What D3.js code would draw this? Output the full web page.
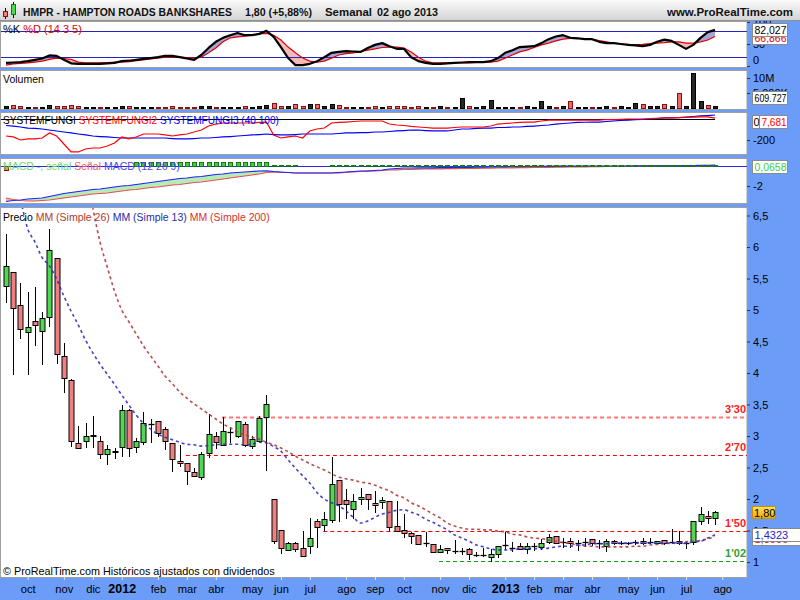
<!DOCTYPE html>
<html><head><meta charset="utf-8">
<script src="https://cdn.jsdelivr.net/npm/d3@7"></script>
<style>
html,body{margin:0;padding:0;background:#fff;}
svg{display:block;font-family:"Liberation Sans",Arial,sans-serif;}
</style></head><body>
<svg id="c" width="800" height="600"></svg>
<script>
// ---------------- DATA ----------------
const firstWeek = new Date(2011, 8, 12);      // Monday of first weekly candle
const lastAxisWeek = new Date(2013, 7, 5);    // extra axis slot (ago 2013)
const monthNames = ["ene","feb","mar","abr","may","jun","jul","ago","sep","oct","nov","dic"];

const open = [5.38,5.60,5.08,4.65,4.83,4.67,4.89,5.83,4.27,3.89, 2.89,2.92,3.00,2.92,2.71,2.75,2.83,3.41,2.83,2.90,
  3.19,3.24,3.11,2.89,2.60,2.57,2.43,2.35,2.73,3.00, 2.86,3.06,3.00,3.19,2.84,2.92,3.30,2.00,1.51,1.19,
  1.30,1.22,1.25,1.65,1.59,1.67,2.30,1.98,1.84,2.00, 2.08,1.94,1.95,1.97,1.57,1.51,1.46,1.43,1.30,1.29,
  1.16,1.22,1.17,1.17,1.21,1.11,1.11,1.08,1.13,1.27, 1.22,1.25,1.21,1.25,1.24,1.32,1.41,1.32,1.33,1.30,
  1.32,1.37,1.30,1.25,1.33,1.30,1.30,1.32,1.33,1.32, 1.30,1.35,1.32,1.33,1.30,1.32,1.65,1.73,1.70];
const high = [6.21,5.60,5.43,5.29,5.37,4.97,6.29,5.83,4.48,3.90, 3.16,3.21,3.32,3.00,2.86,2.81,3.49,3.43,2.97,3.38,
  3.27,3.24,3.14,2.89,2.86,2.57,2.49,2.75,3.35,3.06, 3.30,3.14,3.24,3.22,3.00,3.32,3.65,2.00,1.51,1.32,
  1.32,1.49,1.70,1.68,1.79,2.67,2.30,2.16,2.08,2.17, 2.08,2.13,2.03,1.97,1.97,1.76,1.48,1.43,1.48,1.29,
  1.27,1.22,1.35,1.22,1.22,1.16,1.22,1.21,1.25,1.48, 1.32,1.30,1.30,1.30,1.37,1.44,1.41,1.38,1.38,1.35,
  1.38,1.37,1.35,1.37,1.35,1.33,1.32,1.35,1.38,1.38, 1.33,1.35,1.52,1.49,1.33,1.65,1.87,1.81,1.81];
const low = [5.13,3.98,4.56,3.98,4.44,4.14,4.75,4.16,3.70,2.84, 2.81,2.83,2.83,2.65,2.56,2.65,2.68,2.68,2.75,2.87,
  2.90,3.00,2.79,2.44,2.52,2.24,2.37,2.32,2.67,2.81, 2.86,2.90,2.98,2.84,2.81,2.92,2.46,1.30,1.14,1.19,
  1.17,1.10,1.14,1.24,1.51,1.63,1.65,1.70,1.70,1.92, 1.84,1.79,1.86,1.51,1.49,1.40,1.30,1.29,1.25,1.16,
  1.16,1.14,1.14,1.13,1.05,1.10,1.10,1.02,1.08,1.21, 1.17,1.21,1.14,1.19,1.21,1.30,1.30,1.24,1.24,1.19,
  1.25,1.27,1.22,1.17,1.29,1.29,1.29,1.29,1.29,1.30, 1.30,1.29,1.30,1.29,1.22,1.29,1.60,1.62,1.60];
const close = [5.70,5.03,4.70,4.73,4.76,4.87,5.95,4.30,3.92,2.92, 2.81,3.00,3.01,2.71,2.79,2.76,3.41,2.81,2.92,3.21,
  3.19,3.05,2.92,2.63,2.57,2.44,2.37,2.71,3.03,2.90, 3.08,3.06,3.24,2.86,2.95,3.29,3.51,1.33,1.22,1.30,
  1.21,1.10,1.38,1.56,1.68,2.24,1.92,1.92,1.97,2.03, 2.00,1.90,1.98,1.56,1.49,1.46,1.41,1.29,1.30,1.16,
  1.21,1.19,1.17,1.17,1.13,1.11,1.11,1.13,1.25,1.27, 1.22,1.21,1.25,1.25,1.30,1.40,1.30,1.32,1.30,1.30,
  1.32,1.30,1.30,1.33,1.30,1.30,1.30,1.32,1.30,1.32, 1.33,1.30,1.32,1.30,1.30,1.65,1.76,1.70,1.80];

// moving averages
const mm13 = [null,7.2,6.75,6.29,6.08,5.83,5.70,5.49,5.22,4.98, 4.76,4.52,4.32,4.14,3.98,3.82,3.65,3.49,3.33,3.20,
  3.11,3.03,2.98,2.94,2.90,2.87,2.86,2.84,2.85,2.86, 2.87,2.87,2.87,2.86,2.87,2.90,2.89,2.83,2.76,2.62,
  2.49,2.37,2.25,2.10,2.00,1.94,1.89,1.81,1.71,1.62, 1.65,1.71,1.76,1.79,1.82,1.83,1.79,1.75,1.68,1.63,
  1.57,1.51,1.43,1.38,1.33,1.27,1.24,1.21,1.19,1.19, 1.19,1.21,1.21,1.21,1.21,1.22,1.24,1.25,1.25,1.27,
  1.27,1.29,1.29,1.29,1.30,1.30,1.30,1.30,1.30,1.30, 1.30,1.30,1.30,1.30,1.30,1.32,1.33,1.38,1.4323];
const mm26 = [null,null,null,null,null,null,null,null,null,null, null,7.3,6.62,6.08,5.68,5.30,5.00,4.81,4.62,4.43,
  4.27,4.11,3.95,3.83,3.70,3.60,3.51,3.43,3.35,3.27, 3.19,3.13,3.06,3.02,2.98,2.95,2.90,2.86,2.81,2.75,
  2.68,2.62,2.56,2.51,2.46,2.40,2.35,2.32,2.30,2.27, 2.25,2.22,2.17,2.13,2.06,2.02,1.94,1.89,1.83,1.76,
  1.70,1.62,1.57,1.54,1.52,1.52,1.51,1.51,1.49,1.48, 1.44,1.43,1.40,1.38,1.37,1.35,1.33,1.31,1.29,1.27,
  1.25,1.25,1.24,1.24,1.24,1.24,1.24,1.25,1.25,1.27, 1.28,1.29,1.30,1.31,1.32,1.33,1.34,1.37,1.3996];

// horizontal levels
const levelValues = [3.30, 2.70, 1.50, 1.02];
const levelStart  = [30, 25, 44, 60];
const levelLabels = ["3'30", "2'70", "1'50", "1'02"];

// stochastic %K / %D
const stochK = [7,8,9,11,14,17,24,23,14,6, 5,5,5,5,6,7,11,12,14,16, 18,20,23,23,20,17,14,25,41,55,
  64,70,75,70,70,73,80,66,43,18, 2,2,5,11,20,30,32,34,33,32, 41,48,52,45,39,39,20,11,7,5,
  5,6,7,8,9,9,9,11,18,30, 36,43,44,45,52,61,67,70,64,63, 61,61,55,52,52,50,48,47,45,48,
  55,60,57,48,39,48,64,77,82.027];
const stochD = [2,5,6,7,9,11,15,18,17,15, 9,7,7,7,8,9,9,10,12,14, 16,18,20,20,20,19,18,20,30,41,
  55,64,66,68,70,73,74,70,59,43, 30,18,11,9,11,18,25,28,30,33, 36,39,42,43,43,41,32,20,11,7,
  7,7,7,7,7,8,9,9,11,18, 25,32,36,42,48,52,57,61,63,63, 61,61,58,55,52,50,49,48,49,51,
  52,53,55,55,52,52,55,59,66.866];

// volume (millions)
const volume = [0.8,1.0,0.6,0.5,0.4,0.5,0.9,0.8,0.6,1.0, 0.6,0.4,0.4,0.5,0.4,0.3,0.7,0.6,0.3,0.5,
  0.3,0.4,0.5,0.6,0.4,0.5,0.3,0.6,0.7,0.4, 0.5,0.3,0.5,0.6,0.4,0.6,1.0,1.6,0.8,0.7,
  1.4,0.6,1.4,1.2,0.6,1.3,0.9,0.5,0.4,0.3, 0.5,0.8,0.3,0.8,0.6,0.7,0.4,0.6,0.3,0.4,
  0.6,0.3,0.4,3.3,0.7,0.3,0.6,2.7,0.4,0.3, 0.5,0.3,0.6,0.3,2.3,0.6,0.3,0.6,2.3,0.3,
  0.3,0.4,0.3,0.6,0.3,0.6,0.3,1.6,1.3,0.6, 0.7,1.3,0.6,5.0,0.6,11.7,2.3,0.9,0.609727];

// SYSTEMFUNGI
const fungi1Level = 0;
const fungi2 = [-162,-171,-200,-190,-190,-181,-133,-162,-238,-314, -314,-286,-276,-276,-257,-229,-171,-190,-171,-143,
  -143,-143,-152,-162,-152,-143,-124,-105,-67,-48, -38,-38,-38,-38,-38,-33,-29,-152,-181,-171,
  -162,-181,-114,-95,-86,-38,-33,-29,-24,-19, -19,-19,-19,-48,-57,-62,-71,-76,-81,-86,
  -86,-86,-81,-76,-76,-76,-76,-67,-48,-43, -38,-33,-29,-29,-19,-10,-10,-10,-10,-10,
  -10,-10,-10,-5,-5,-3,0,0,0,5, 7,10,10,14,16,18,20,20,7.681];
const fungi3 = [-62,-67,-76,-86,-90,-95,-105,-114,-124,-133, -143,-152,-162,-167,-171,-176,-181,-181,-181,-181,
  -181,-181,-181,-186,-190,-190,-186,-181,-181,-176, -171,-167,-162,-157,-152,-148,-143,-148,-152,-152,
  -148,-143,-143,-143,-143,-143,-138,-133,-133,-129, -129,-124,-124,-119,-114,-110,-105,-105,-110,-114,
  -114,-114,-105,-95,-95,-90,-86,-86,-81,-81, -76,-76,-71,-67,-62,-57,-48,-43,-38,-33,
  -31,-29,-29,-24,-19,-14,-10,-7,-3,0, 5,10,11,14,19,24,29,33,38];

// MACD
const macdLine = [-3.55,-3.45,-3.40,-3.30,-3.25,-3.20,-3.05,-2.90,-2.75,-2.65, -2.55,-2.45,-2.35,-2.30,-2.20,-2.10,-2.00,-1.95,-1.85,-1.75,
  -1.65,-1.55,-1.45,-1.35,-1.25,-1.20,-1.10,-1.05,-0.95,-0.85, -0.80,-0.70,-0.65,-0.60,-0.55,-0.50,-0.48,-0.55,-0.60,-0.65,
  -0.70,-0.70,-0.70,-0.70,-0.70,-0.70,-0.65,-0.60,-0.55,-0.50, -0.50,-0.45,-0.40,-0.30,-0.25,-0.20,-0.20,-0.19,-0.19,-0.18,
  -0.17,-0.16,-0.15,-0.14,-0.13,-0.12,-0.11,-0.10,-0.09,-0.08, -0.07,-0.06,-0.05,-0.04,-0.03,-0.03,-0.02,-0.02,-0.01,0.00,
  0.00,0.00,0.00,0.00,0.00,0.00,0.00,0.01,0.01,0.01, 0.01,0.02,0.02,0.03,0.04,0.05,0.06,0.07,0.08];
const signalLine = [-3.20,-3.35,-3.45,-3.50,-3.50,-3.45,-3.40,-3.30,-3.20,-3.10, -3.00,-2.90,-2.80,-2.75,-2.70,-2.60,-2.50,-2.40,-2.35,-2.25,
  -2.15,-2.10,-2.00,-1.90,-1.85,-1.75,-1.65,-1.60,-1.50,-1.40, -1.30,-1.20,-1.10,-1.00,-0.90,-0.80,-0.65,-0.60,-0.65,-0.65,
  -0.70,-0.70,-0.70,-0.70,-0.70,-0.70,-0.68,-0.65,-0.60,-0.55, -0.52,-0.50,-0.45,-0.40,-0.38,-0.35,-0.33,-0.31,-0.30,-0.29,
  -0.28,-0.27,-0.26,-0.25,-0.24,-0.23,-0.22,-0.21,-0.20,-0.19, -0.18,-0.17,-0.16,-0.15,-0.14,-0.13,-0.12,-0.11,-0.10,-0.09,
  -0.08,-0.07,-0.06,-0.05,-0.04,-0.04,-0.03,-0.03,-0.02,-0.02, -0.01,-0.01,0.00,0.00,0.00,0.00,0.01,0.01,0.02];
const macdHist = [-0.4,0,0,0,0,0,0,0,0,0, 0,0,0,0,0,0,0,0,0.4,0.4,
  0.4,0.4,0.4,0.4,0.4,0.4,0.4,0.4,0.4,0.4, 0.4,0.4,0.4,0.4,0.4,0.4,0.4,0.1,0.1,0.1,
  0.1,0,0,0,0,0.08,0.08,0.08,0.08,0.08, 0.08,0.08,0.08,0.08,0.08,0.08,0.08,0.08,0.08,0.08,
  0.08,0.08,0.08,0.08,0.08,0.08,0.08,0.08,0.08,0.08, 0.08,0.08,0.08,0.08,0.08,0.08,0.08,0.08,0.08,0.08,
  0.08,0.08,0.08,0.08,0.08,0.08,0.08,0.08,0.08,0.08, 0.08,0.08,0.08,0.08,0.08,0.08,0.08,0.08,0.0658];

// price axis tick values
const priceTicks = [1,1.5,2,2.5,3,3.5,4,4.5,5,5.5,6,6.5];

// ---------------- DRAWING ----------------
const W = 800, H = 600, RX = 747;
const BLUE = "#6b9cf7";
const svg = d3.select("#c");
const defs = svg.append("defs");
const comma = v => String(v).replace(".", ",");
const n = open.length;
const idx = d3.range(n);

const hg = defs.append("linearGradient").attr("id","hdr").attr("x1",0).attr("y1",0).attr("x2",0).attr("y2",1);
hg.append("stop").attr("offset","0%").attr("stop-color","#fbfbfb");
hg.append("stop").attr("offset","100%").attr("stop-color","#d4d4d4");
const gg = defs.append("linearGradient").attr("id","gold").attr("x1",0).attr("y1",0).attr("x2",0).attr("y2",1);
gg.append("stop").attr("offset","0%").attr("stop-color","#ffe066");
gg.append("stop").attr("offset","100%").attr("stop-color","#f0aa00");

svg.append("rect").attr("width",W).attr("height",H).attr("fill",BLUE);

function panel(name, y0, y1){
  svg.append("rect").attr("x",0.5).attr("y",y0+0.5).attr("width",RX-0.5).attr("height",y1-y0)
    .attr("fill","#fff").attr("stroke","#a0a0a0");
  defs.append("clipPath").attr("id","clip-"+name).append("rect")
    .attr("x",1).attr("y",y0+1).attr("width",RX-1).attr("height",y1-y0-1);
  return svg.append("g").attr("clip-path",`url(#clip-${name})`);
}

const x = d3.scaleLinear().domain([0, 98]).range([6, 715]);
const cx = i => Math.round(x(i)) + 0.5;

function rightAxis(scale, values, fmt){
  const g = svg.append("g").attr("transform",`translate(${RX},0)`)
    .call(d3.axisRight(scale).tickValues(values).tickSize(3).tickPadding(3).tickFormat(fmt));
  g.select(".domain").remove();
  g.selectAll("line").attr("stroke","#333");
  g.selectAll("text").attr("font-size","11px").attr("fill","#000").attr("font-family","Liberation Sans, Arial, sans-serif");
  return g;
}
function fitText(t, maxW){
  const w = t.node().getComputedTextLength();
  if (w > maxW) t.attr("textLength", maxW).attr("lengthAdjust","spacingAndGlyphs");
}
function valueBox(xp, yc, w, txt, color, fill, stroke){
  svg.append("rect").attr("x",xp+0.5).attr("y",Math.round(yc-6.5)+0.5).attr("width",w).attr("height",13)
    .attr("fill",fill||"#fff").attr("stroke",stroke||"#8a8a8a");
  const t = svg.append("text").attr("x",xp+2.5).attr("y",Math.round(yc-6.5)+11).attr("font-size","11px")
    .attr("fill",color).text(txt);
  fitText(t, w - 3);
}
function fillBetween(g, a, b, ys, top, bottom, colAbove, colBelow, id){
  const area = d3.area().x((d,i)=>x(i)).y0((d,i)=>ys(a[i])).y1((d,i)=>ys(b[i]));
  const cA = defs.append("clipPath").attr("id",id+"A");
  cA.append("path").attr("d", d3.area().x((d,i)=>x(i)).y0(top).y1((d,i)=>ys(b[i]))(idx));
  const cB = defs.append("clipPath").attr("id",id+"B");
  cB.append("path").attr("d", d3.area().x((d,i)=>x(i)).y0((d,i)=>ys(b[i])).y1(bottom)(idx));
  g.append("path").attr("d",area(idx)).attr("fill",colAbove).attr("clip-path",`url(#${id}A)`);
  g.append("path").attr("d",area(idx)).attr("fill",colBelow).attr("clip-path",`url(#${id}B)`);
}

// ===== Stochastic panel =====
const ySt = d3.scaleLinear().domain([0,100]).range([66,22]);
const gSt = panel("st", 21, 67);
fillBetween(gSt, stochK, stochD, ySt, 0, 80, "#a6a6d6", "#f5baba", "stf");
[80,20].forEach(v => gSt.append("line").attr("x1",0).attr("x2",RX).attr("y1",Math.round(ySt(v))+0.5).attr("y2",Math.round(ySt(v))+0.5).attr("stroke","#2424c0"));
gSt.append("path").attr("d", d3.line().x((d,i)=>x(i)).y(d=>ySt(d))(stochD)).attr("fill","none").attr("stroke","#e00000").attr("stroke-width",1.2);
gSt.append("path").attr("d", d3.line().x((d,i)=>x(i)).y(d=>ySt(d))(stochK)).attr("fill","none").attr("stroke","#000").attr("stroke-width",2.2).attr("stroke-linejoin","round");
const stl = svg.append("text").attr("x",3).attr("y",33).attr("font-size","11px");
stl.append("tspan").attr("fill","#000").text("%K");
stl.append("tspan").attr("fill","#e00000").text(" %D (14 3 5)");
const stAx = rightAxis(ySt, [0,50,100], d=>d);
stAx.selectAll(".tick").filter(d=>d===0).select("text").attr("dy","-0.2em");
valueBox(752, ySt(stochD[n-1])+1, 35, comma(stochD[n-1].toFixed(3)), "#e00000");
valueBox(752, ySt(stochK[n-1]), 35, comma(stochK[n-1].toFixed(3)), "#000");

// ===== Volume panel =====
const yVol = d3.scaleLinear().domain([0,10]).range([108,78]);
const gVol = panel("vol", 70, 109);
gVol.selectAll("rect.v").data(idx).enter().append("rect")
  .attr("x", i => Math.round(x(i)) - 2 + 0.5)
  .attr("y", i => Math.round(yVol(volume[i])) + 0.5)
  .attr("width", 4)
  .attr("height", i => Math.max(0, 108 - Math.round(yVol(volume[i]))))
  .attr("fill", i => close[i] >= open[i] ? "#262626" : "#e86a6a")
  .attr("stroke", i => close[i] >= open[i] ? "#000" : "#8b1010");
svg.append("text").attr("x",3).attr("y",83).attr("font-size","10.5px").attr("fill","#000").text("Volumen");
rightAxis(yVol, [5,10], d => d===10 ? "10M" : "5.000K");
const volTxt = String(Math.round(volume[n-1]*1e6)).replace(/\B(?=(\d{3})+(?!\d))/g, ".").replace(/^(\d+)\.(\d{3})$/, "$1.$2");
svg.append("rect").attr("x",752.5).attr("y",91.5).attr("width",35).attr("height",13).attr("fill","#fff").attr("stroke","#8a8a8a");
const vt = svg.append("text").attr("x",754.5).attr("y",102).attr("font-size","11px").attr("fill","#000")
  .text(String(Math.round(volume[n-1]*1e3*1000)/1000).replace(".", "."));
fitText(vt, 32);

// ===== SYSTEMFUNGI panel =====
const ySf = d3.scaleLinear().domain([-200,0]).range([140,119]);
const gSf = panel("sf", 112, 154);
gSf.append("line").attr("x1",x(0)-6).attr("x2",x(n-1)).attr("y1",Math.round(ySf(fungi1Level))+0.5).attr("y2",Math.round(ySf(fungi1Level))+0.5).attr("stroke","#000").attr("stroke-width",1.2);
gSf.append("path").attr("d", d3.line().x((d,i)=>x(i)).y(d=>ySf(d))(fungi3)).attr("fill","none").attr("stroke","#0000ff").attr("stroke-width",1.2);
gSf.append("path").attr("d", d3.line().x((d,i)=>x(i)).y(d=>ySf(d))(fungi2)).attr("fill","none").attr("stroke","#ff0000").attr("stroke-width",1.2);
const sfl = svg.append("text").attr("x",3).attr("y",124).attr("font-size","10.1px");
sfl.append("tspan").attr("fill","#000").text("SYSTEMFUNGI");
sfl.append("tspan").attr("fill","#ff0000").text(" SYSTEMFUNGI2");
sfl.append("tspan").attr("fill","#0000ff").text(" SYSTEMFUNGI3 (40 100)");
rightAxis(ySf, [-200], d=>d);
svg.append("rect").attr("x",752.5).attr("y",Math.round(ySf(fungi1Level)-4)+0.5).attr("width",35).attr("height",13).attr("fill","#fff").attr("stroke","#8a8a8a");
svg.append("text").attr("x",753.5).attr("y",Math.round(ySf(fungi1Level)-4)+11).attr("font-size","11px").attr("fill","#000").text(String(fungi1Level));
valueBox(759, ySf(fungi1Level)+2.5, 28, comma(fungi2[n-1]), "#ff0000");

// ===== MACD panel =====
const yM = d3.scaleLinear().domain([-2,0]).range([186,166]);
const gM = panel("macd", 158, 203);
fillBetween(gM, macdLine, signalLine, yM, 150, 210, "#b6ebb6", "#f5baba", "mf");
gM.append("line").attr("x1",0).attr("x2",RX).attr("y1",Math.round(yM(0))+0.5).attr("y2",Math.round(yM(0))+0.5).attr("stroke","#2a2ae0");
gM.append("path").attr("d", d3.line().x((d,i)=>x(i)).y(d=>yM(d))(signalLine)).attr("fill","none").attr("stroke","#e65050").attr("stroke-width",1.2);
gM.append("path").attr("d", d3.line().x((d,i)=>x(i)).y(d=>yM(d))(macdLine)).attr("fill","none").attr("stroke","#2020ff").attr("stroke-width",1.2);
const ml = svg.append("text").attr("x",3).attr("y",170).attr("font-size","10.5px");
ml.append("tspan").attr("fill","#70d870").text("MACD -, señal");
ml.append("tspan").attr("fill","#f06060").text(" Señal");
ml.append("tspan").attr("fill","#4a4af0").text(" MACD (12 26 9)");
gM.selectAll("rect.h").data(idx.filter(i => macdHist[i] !== 0)).enter().append("rect")
  .attr("x", i => Math.round(x(i)) - 2 + 0.5)
  .attr("y", i => Math.round(Math.min(yM(macdHist[i]), yM(0))) + 0.5)
  .attr("width", 4)
  .attr("height", i => Math.max(0.01, Math.round(Math.abs(yM(macdHist[i]) - yM(0)))))
  .attr("fill", i => macdHist[i] > 0 ? "#44cc44" : "#e86a6a")
  .attr("stroke", i => macdHist[i] > 0 ? "#127a12" : "#8b1010");
rightAxis(yM, [-2], d=>d);
valueBox(752, yM(macdHist[n-1])+1.5, 35, comma(macdHist[n-1]), "#3ccf3c");

// ===== Price panel =====
const yP = d3.scaleLinear().domain([1,6.5]).range([562,215.5]);
const gP = panel("price", 207, 577);
// levels
levelValues.forEach((v,k) => {
  const yy = Math.round(yP(v)) + 0.5;
  gP.append("line").attr("x1", x(levelStart[k]) - 1).attr("x2", RX).attr("y1", yy).attr("y2", yy)
    .attr("stroke", k === 3 ? "#129a12" : "#ff0000")
    .attr("stroke-width", k === 0 ? 1.8 : 1.1)
    .attr("stroke-opacity", k === 0 ? 0.55 : 1)
    .attr("stroke-dasharray", "4,3");
  svg.append("text").attr("x", 746).attr("y", yy - 5).attr("text-anchor","end")
    .attr("font-size","11px").attr("font-weight","bold")
    .attr("fill", k === 3 ? "#2f9f2f" : "#ff1a1a").text(levelLabels[k]);
});
// candles
const cg = gP.append("g");
idx.forEach(i => {
  const c = cx(i);
  cg.append("line").attr("x1",c).attr("x2",c).attr("y1",Math.round(yP(high[i]))).attr("y2",Math.round(yP(low[i]))+1)
    .attr("stroke","#000");
  const t = Math.round(yP(Math.max(open[i],close[i])));
  const b = Math.round(yP(Math.min(open[i],close[i])));
  if (b - t < 1) {
    cg.append("line").attr("x1",c-3).attr("x2",c+3).attr("y1",t+0.5).attr("y2",t+0.5).attr("stroke","#000").attr("stroke-width",1.3);
  } else {
    cg.append("rect").attr("x",c-2.5).attr("y",t+0.5).attr("width",5).attr("height",b-t)
      .attr("fill", close[i] >= open[i] ? "#50d850" : "#f08080").attr("stroke","#000");
  }
});
// moving averages
const maLine = d3.line().defined(d => d != null).x((d,i)=>x(i)).y(d=>yP(d)).curve(d3.curveMonotoneX);
gP.append("path").attr("d", maLine(mm26)).attr("fill","none").attr("stroke","#b03a3a").attr("stroke-width",1.6).attr("stroke-dasharray","3,3").attr("stroke-opacity",0.9);
gP.append("path").attr("d", maLine(mm13)).attr("fill","none").attr("stroke","#2f2fc0").attr("stroke-width",1.6).attr("stroke-dasharray","3,3").attr("stroke-opacity",0.9);

const pl = svg.append("text").attr("x",3).attr("y",221).attr("font-size","10.5px");
pl.append("tspan").attr("fill","#000").text("Precio");
pl.append("tspan").attr("fill","#b03a2e").text(" MM (Simple 26)");
pl.append("tspan").attr("fill","#2a2aa8").text(" MM (Simple 13)");
pl.append("tspan").attr("fill","#d93030").text(" MM (Simple 200)");
svg.append("text").attr("x",3).attr("y",575).attr("font-size","10.8px").attr("fill","#000")
  .text("© ProRealTime.com Históricos ajustados con dividendos");

rightAxis(yP, priceTicks, comma);
valueBox(752, yP(mm26[n-1]) + 2, 48, comma(mm26[n-1]), "#b03030");
valueBox(752, yP(mm13[n-1]), 48, comma(mm13[n-1]), "#2424c8");
svg.append("rect").attr("x",752.5).attr("y",Math.round(yP(close[n-1])-6)+0.5).attr("width",23).attr("height",12)
  .attr("fill","url(#gold)").attr("stroke","#c89000");
svg.append("text").attr("x",754).attr("y",Math.round(yP(close[n-1])-6)+11).attr("font-size","11px").attr("fill","#000").text(comma(close[n-1].toFixed(2)));

// ===== Bottom time axis =====
const weeks = d3.timeMonday.range(firstWeek, d3.timeDay.offset(lastAxisWeek, 1));
const monthTicks = d3.range(weeks.length).filter(i => i > 0 && weeks[i].getMonth() !== weeks[i-1].getMonth());
const xAx = svg.append("g").attr("transform","translate(0,577)")
  .call(d3.axisBottom(x).tickValues(monthTicks).tickSize(3)
    .tickFormat(i => weeks[i].getMonth() === 0 ? String(weeks[i].getFullYear()) : monthNames[weeks[i].getMonth()]));
xAx.select(".domain").remove();
xAx.selectAll("line").attr("stroke","#dfe6f5");
xAx.selectAll("text").attr("y",16).attr("dy",0).attr("fill","#000")
  .attr("font-family","Liberation Sans, Arial, sans-serif")
  .attr("font-size", i => weeks[i].getMonth() === 0 ? "12.5px" : "11.2px")
  .attr("font-weight", i => weeks[i].getMonth() === 0 ? "bold" : "normal");

// ===== Header =====
svg.append("rect").attr("x",0).attr("y",0).attr("width",W).attr("height",20).attr("fill","url(#hdr)");
svg.append("line").attr("x1",0).attr("x2",W).attr("y1",20.5).attr("y2",20.5).attr("stroke","#909090");
// icon
svg.append("line").attr("x1",5.5).attr("x2",5.5).attr("y1",8).attr("y2",19).attr("stroke","#000");
svg.append("rect").attr("x",3.5).attr("y",11.5).attr("width",4).attr("height",5).attr("fill","#f08080").attr("stroke","#8b1010");
svg.append("line").attr("x1",13.5).attr("x2",13.5).attr("y1",2).attr("y2",18).attr("stroke","#000");
svg.append("rect").attr("x",11.5).attr("y",4.5).attr("width",4).attr("height",10).attr("fill","#50d850").attr("stroke","#127a12");
const hdr = [
  {t:"HMPR - HAMPTON ROADS BANKSHARES", x:23, w:209},
  {t:"1,80 (+5,88%)", x:245, w:67},
  {t:"Semanal", x:325, w:47},
  {t:"02 ago 2013", x:377, w:61},
  {t:"www.ProRealTime.com", x:667, w:126}
];
hdr.forEach(h => svg.append("text").attr("x",h.x).attr("y",16).attr("font-size","11.5px").attr("font-weight","bold")
  .attr("fill","#111").attr("textLength",h.w).attr("lengthAdjust","spacingAndGlyphs").text(h.t));
</script>
</body></html>
